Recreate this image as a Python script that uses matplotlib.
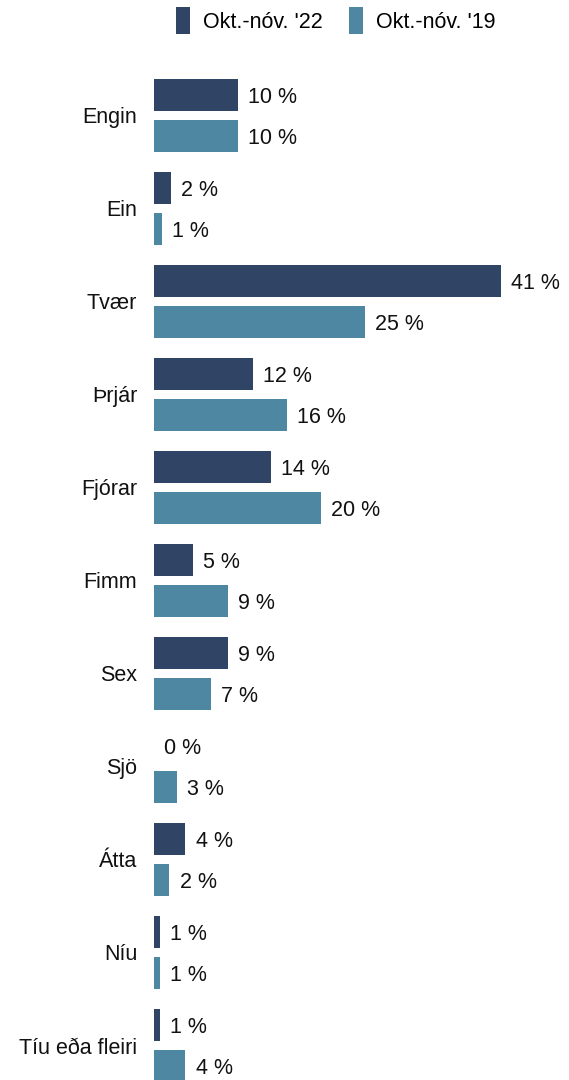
import matplotlib.pyplot as plt
import numpy as np

plt.rcParams['font.family'] = ['Liberation Sans', 'DejaVu Sans']

# Fjöldi - categories and shares (%)
categories = ['Engin', 'Ein', 'Tvær', 'Þrjár', 'Fjórar', 'Fimm', 'Sex',
              'Sjö', 'Átta', 'Níu', 'Tíu eða fleiri']
vals_22 = [9.9, 2.0, 41.0, 11.7, 13.8, 4.6, 8.7, 0.0, 3.7, 0.7, 0.7]
vals_19 = [9.9, 0.9, 24.9, 15.7, 19.7, 8.7, 6.7, 2.7, 1.8, 0.7, 3.7]
series_names = ["Okt.-nóv. '22", "Okt.-nóv. '19"]

col_22 = '#304566'
col_19 = '#4D87A1'

fig = plt.figure(figsize=(5.69, 10.8), dpi=100)
ax = fig.add_axes([154 / 569, 0.0, 401 / 569, 1 - 70 / 1080])

y = np.arange(len(categories))
off = 0.22
h = 0.345

b1 = ax.barh(y - off, vals_22, height=h, color=col_22, label=series_names[0])
b2 = ax.barh(y + off, vals_19, height=h, color=col_19, label=series_names[1])

# value labels
for bars, vals in [(b1, vals_22), (b2, vals_19)]:
    for rect, v in zip(bars, vals):
        ax.annotate(f'{v:.0f} %', (rect.get_width(), rect.get_y() + rect.get_height() / 2),
                    xytext=(7.5, -1.5), textcoords='offset points',
                    ha='left', va='center', fontsize=15.5, color='#111111')

ax.set_xlim(0, 401 / 8.46)
ax.set_ylim(10 + 34.5 / 93, -45.5 / 93)
ax.set_yticks(y)
ax.set_yticklabels(categories, fontsize=15.5, color='#111111')
ax.tick_params(axis='y', length=0, pad=12)
ax.set_xticks([])
for s in ax.spines.values():
    s.set_visible(False)

fig.legend(handles=[b1, b2], labels=series_names, loc='center',
           bbox_to_anchor=(0.59, 0.981), ncol=2, frameon=False,
           fontsize=15.5, handlelength=0.65, handleheight=1.6,
           handletextpad=0.6, columnspacing=1.2)

fig.savefig('out.png', dpi=100)
